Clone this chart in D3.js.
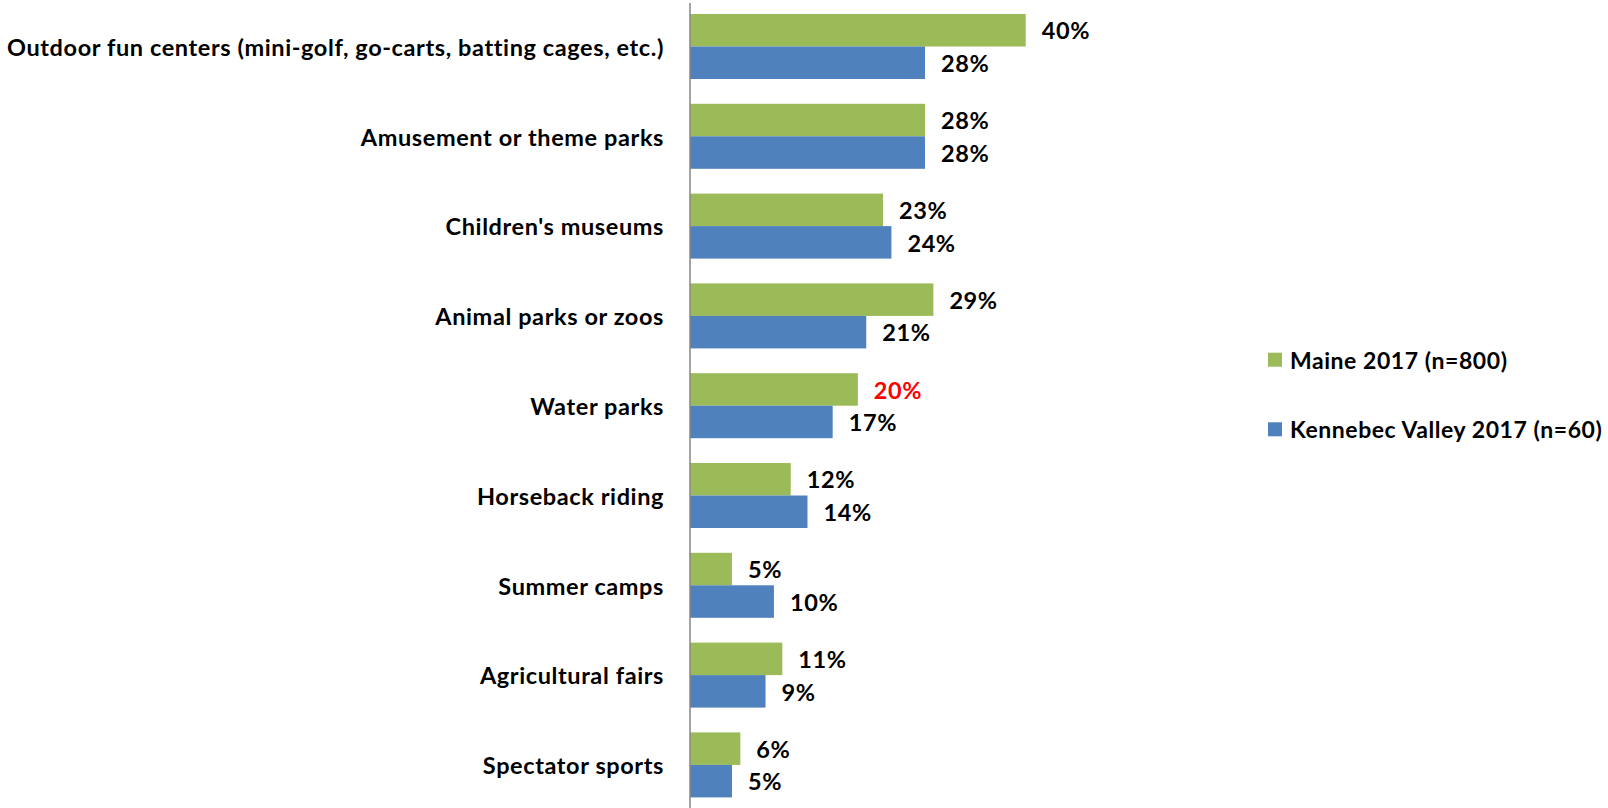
<!DOCTYPE html>
<html>
<head>
<meta charset="utf-8">
<script src="https://cdn.jsdelivr.net/npm/d3@7"></script>
<style>
  html, body { margin: 0; padding: 0; background: #fff; }
  svg { display: block; }
  text { font-family: Lato, "Open Sans", sans-serif; font-weight: bold; fill: #000; letter-spacing: 0.6px; }
  text.legend-label { letter-spacing: 0.55px; }
</style>
</head>
<body>
<svg id="chart" width="1608" height="808"></svg>
<script>
const categories = [
  "Outdoor fun centers (mini-golf, go-carts, batting cages, etc.)",
  "Amusement or theme parks",
  "Children's museums",
  "Animal parks or zoos",
  "Water parks",
  "Horseback riding",
  "Summer camps",
  "Agricultural fairs",
  "Spectator sports"
];
const seriesNames = ["Maine 2017 (n=800)", "Kennebec Valley 2017 (n=60)"];
const maineValues = [40, 28, 23, 29, 20, 12, 5, 11, 6];
const kennebecValues = [28, 28, 24, 21, 17, 14, 10, 9, 5];
const seriesColors = ["#9BBB59", "#4F81BD"];
// value labels shown in red
const highlighted = [{ series: 0, index: 4 }];

const svg = d3.select("#chart");
const axisX = 690;
const fontSize = 23.5;
const legendFontSize = 23;

const x = d3.scaleLinear().domain([0, 40]).range([axisX, 1025.7]);

const step = 89.8;
const y = d3.scaleBand()
  .domain(categories)
  .range([14 - 12.4, 14 - 12.4 + step * categories.length])
  .paddingInner(24.8 / step)
  .paddingOuter(12.4 / step);

const sub = d3.scaleBand()
  .domain([0, 1])
  .range([0, y.bandwidth()]);

const rows = categories.map((c, i) => ({
  cat: c,
  vals: [maineValues[i], kennebecValues[i]],
  i
}));

const groups = svg.append("g").selectAll("g")
  .data(rows).join("g")
  .attr("transform", d => `translate(0,${y(d.cat)})`);

groups.selectAll("rect")
  .data(d => d.vals.map((v, s) => ({ v, s })))
  .join("rect")
  .attr("x", x(0))
  .attr("y", d => sub(d.s))
  .attr("width", d => x(d.v) - x(0))
  .attr("height", sub.bandwidth())
  .attr("fill", d => seriesColors[d.s]);

groups.selectAll("text.val")
  .data(d => d.vals.map((v, s) => ({ v, s, i: d.i })))
  .join("text")
  .attr("class", "val")
  .attr("x", d => x(d.v) + 16)
  .attr("y", d => sub(d.s) + sub.bandwidth() / 2 + 1)
  .attr("dy", "0.35em")
  .attr("font-size", fontSize)
  .style("fill", d => highlighted.some(h => h.series === d.s && h.index === d.i) ? "#FF0000" : "#000")
  .text(d => d.v + "%");

// category labels
svg.append("g").selectAll("text")
  .data(categories).join("text")
  .attr("x", axisX - 26)
  .attr("y", d => y(d) + y.bandwidth() / 2 + 1)
  .attr("dy", "0.35em")
  .attr("text-anchor", "end")
  .attr("font-size", fontSize)
  .text(d => d);

// vertical category axis line
svg.append("line")
  .attr("x1", axisX).attr("x2", axisX)
  .attr("y1", 3).attr("y2", 808)
  .attr("stroke", "#868686")
  .attr("stroke-width", 1.5);

// legend
const legend = svg.append("g").selectAll("g")
  .data(seriesNames).join("g")
  .attr("transform", (d, i) => `translate(1268,${352.7 + i * 69.6})`);
legend.append("rect")
  .attr("width", 14).attr("height", 14)
  .attr("fill", (d, i) => seriesColors[i]);
legend.append("text")
  .attr("class", "legend-label")
  .attr("x", 22)
  .attr("y", 8)
  .attr("dy", "0.35em")
  .attr("font-size", legendFontSize)
  .text(d => d);
</script>
</body>
</html>
